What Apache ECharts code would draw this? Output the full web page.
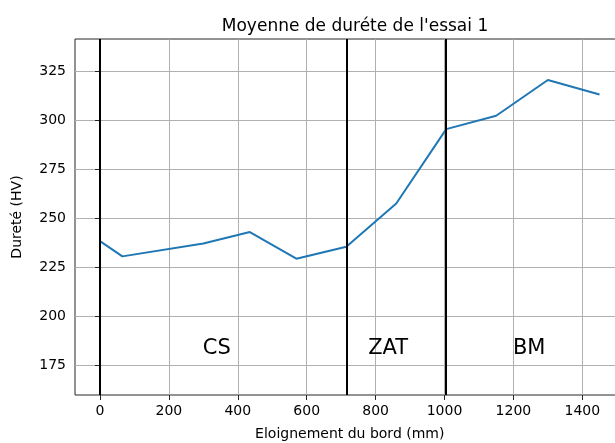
<!DOCTYPE html>
<html>
<head>
<meta charset="utf-8">
<script src="https://cdn.jsdelivr.net/npm/echarts@6/dist/echarts.min.js"></script>
<style>
    html, body { margin: 0; padding: 0; background: #fff; }
    #chart { width: 615px; height: 443px; }
</style>
</head>
<body>
<div id="chart"></div>
<script>
    // valeurs
    const distances = [0, 65, 300, 435, 570, 715, 860, 1005, 1150, 1300, 1450];
    const hardness = [238.4, 230.6, 237.2, 243, 229.4, 235.5, 257.5, 295.4, 302.2, 320.4, 313];
    const zoneBounds = [0, 715, 1005];
    const zoneNames = ['CS', 'ZAT', 'BM'];
    const zoneLabelX = [300, 780, 1200];
    const zoneLabelY = 180;
    const xTicks = [0, 200, 400, 600, 800, 1000, 1200, 1400];
    const yTicks = [175, 200, 225, 250, 275, 300, 325];

    const font = 'DejaVu Sans';
    const chart = echarts.init(document.getElementById('chart'));

    const option = {
        animation: false,
        title: {
            text: "Moyenne de duréte de l'essai 1",
            left: 350,
            top: 13,
            textAlign: 'center',
            textStyle: { fontFamily: font, fontSize: 17, fontWeight: 'normal', color: '#000' }
        },
        grid: {
            left: 75,
            top: 39,
            right: -9.5,
            bottom: 48,
            outerBoundsMode: 'none',
            show: true,
            borderColor: '#262626',
            borderWidth: 1
        },
        xAxis: {
            type: 'value',
            min: -72.5,
            max: 1522.5,
            name: 'Eloignement du bord (mm)',
            nameLocation: 'middle',
            nameGap: 32,
            nameTextStyle: { fontFamily: font, fontSize: 14, color: '#000' },
            axisLine: { show: false },
            axisTick: { show: true, inside: false, length: 5, customValues: xTicks, lineStyle: { color: '#262626' } },
            axisLabel: { customValues: xTicks, formatter: v => String(v), margin: 9, fontFamily: font, fontSize: 14, color: '#000' },
            splitLine: { show: true, lineStyle: { color: '#b0b0b0', width: 1 } }
        },
        yAxis: {
            type: 'value',
            min: 160,
            max: 341.3,
            name: 'Dureté (HV)',
            nameLocation: 'middle',
            nameGap: 51,
            nameTextStyle: { fontFamily: font, fontSize: 14, color: '#000' },
            axisLine: { show: false },
            axisTick: { show: true, inside: false, length: 5, customValues: yTicks, lineStyle: { color: '#262626' } },
            axisLabel: { customValues: yTicks, formatter: v => String(v), margin: 9, fontFamily: font, fontSize: 14, color: '#000' },
            splitLine: { show: true, lineStyle: { color: '#b0b0b0', width: 1 } }
        },
        series: [
            {
                type: 'line',
                data: distances.map((d, i) => [d, hardness[i]]),
                showSymbol: false,
                lineStyle: { color: '#1f77b4', width: 2 },
                z: 3,
                markLine: {
                    silent: true,
                    symbol: ['none', 'none'],
                    label: { show: false },
                    lineStyle: { color: '#000', width: 2, type: 'solid' },
                    data: zoneBounds.map(b => ({ xAxis: b }))
                }
            },
            {
                type: 'scatter',
                data: zoneNames.map((n, i) => [zoneLabelX[i], zoneLabelY, n]),
                symbolSize: 1,
                itemStyle: { color: 'rgba(0,0,0,0)' },
                silent: true,
                label: {
                    show: true,
                    formatter: p => p.data[2],
                    position: [0, 0],
                    align: 'left',
                    verticalAlign: 'bottom',
                    offset: [0, 4],
                    fontFamily: font,
                    fontSize: 21,
                    color: '#000',
                    opacity: 1
                }
            }
        ]
    };

    chart.setOption(option);
</script>
</body>
</html>
